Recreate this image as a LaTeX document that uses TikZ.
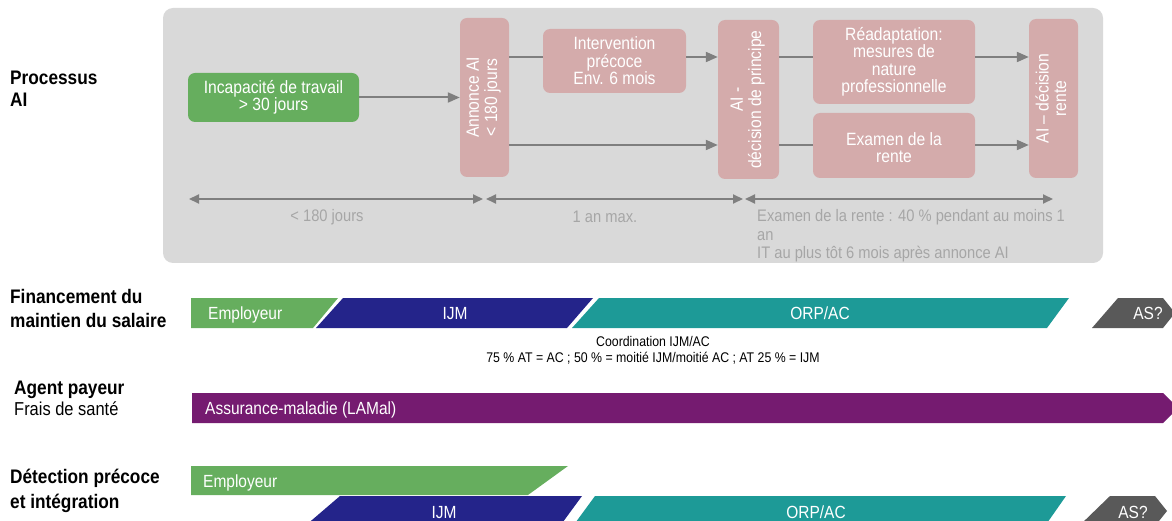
\documentclass[tikz,border=0pt]{standalone}
\usepackage{fontspec}
\setmainfont{Liberation Sans}[FakeStretch=0.88]
\usepackage{xcolor}
\usetikzlibrary{arrows.meta}
\definecolor{fond}{HTML}{D9D9D9}
\definecolor{rose}{HTML}{D4ABAB}
\definecolor{vert}{HTML}{66AE5E}
\definecolor{marine}{HTML}{24248A}
\definecolor{sarcelle}{HTML}{1D9A97}
\definecolor{violet}{HTML}{751B70}
\definecolor{grisAS}{HTML}{595959}
\definecolor{ligne}{HTML}{7F7F7F}
\definecolor{cotegris}{HTML}{A6A6A6}
\newcommand{\boxfont}{\fontsize{17.8}{17.5}\selectfont}
\newcommand{\vtxt}[1]{\rotatebox{90}{\begin{tabular}{@{}c@{}}#1\end{tabular}}}

\begin{document}
\begin{tikzpicture}[x=1pt,y=-1pt,>={Triangle[length=12pt,width=10pt]},
    box/.style={fill=rose,text=white,rounded corners=7pt,align=center,inner sep=0pt,font=\boxfont},
    lien/.style={draw=ligne,line width=2pt},
    cote/.style={draw=ligne,line width=2pt,<->,>={Triangle[length=10pt,width=9pt]}},
    cotetxt/.style={text=cotegris,inner sep=0pt,font=\fontsize{16.7}{18.5}\selectfont},
    titre/.style={anchor=west,align=left,inner sep=0pt},
    barre/.style={text=white,inner sep=0pt,font=\fontsize{17.6}{18}\selectfont}]
    \useasboundingbox (0,0) rectangle (1172,521);
    \clip (0,0) rectangle (1172,521);
    % processus AI
    \fill[fond,rounded corners=10pt] (163,8) rectangle (1103,263);
    \node[box,fill=vert,minimum width=171,minimum height=49] (inc) at (273.5,97.5) {Incapacité de travail\\> 30 jours};
    \node[box,minimum width=49,minimum height=159] (ann) at (484.5,97.5) {\vtxt{Annonce AI\\< 180 jours}};
    \node[box,minimum width=143,minimum height=64] (iv) at (614.5,61) {Intervention\\précoce\\Env. 6 mois};
    \node[box,minimum width=61,minimum height=159] (dp) at (748.5,99.5) {\vtxt{AI -\\décision de principe}};
    \node[box,minimum width=162,minimum height=84] (rd) at (894,62) {Réadaptation:\\mesures de\\nature\\professionnelle};
    \node[box,minimum width=162,minimum height=65] (ex) at (894,145.5) {\mbox{}\\Examen de la\\rente};
    \node[box,minimum width=49,minimum height=159] (dr) at (1053.5,98.5) {\vtxt{AI – décision\\rente}};
    \coordinate (haut) at (0,57);
    \coordinate (bas) at (0,145);
    \draw[lien,->] (inc) -- (ann);
    \draw[lien] (ann.east |- haut) -- (iv.west |- haut);
    \draw[lien,->] (ann.east |- bas) -- (dp.west |- bas);
    \draw[lien,->] (iv.east |- haut) -- (dp.west |- haut);
    \foreach \a/\b in {rd/haut,ex/bas} {\draw[lien] (dp.east |- \b) -- (\a.west |- \b);}
    \foreach \a/\b in {rd/haut,ex/bas} {\draw[lien,->] (\a.east |- \b) -- (dr.west |- \b);}
    % cotes
    \coordinate (c0) at (189,199);
    \coordinate (c1) at (483,199);
    \coordinate (c2) at (486,199);
    \coordinate (c3) at (743,199);
    \coordinate (c4) at (745,199);
    \coordinate (c5) at (1053,199);
    \draw[cote] (c0) -- (c1);
    \draw[cote] (c2) -- (c3);
    \draw[cote] (c4) -- (c5);
    \node[cotetxt] (l1) at (327,217) {< 180 jours};
    \node[cotetxt] (l2) at (605,217) {1 an max.};
    \node[cotetxt,anchor=west,align=left] (l3) at (757,236) {Examen de la rente : 40 \% pendant au moins 1\\an\\IT au plus tôt 6 mois après annonce AI};
    % titres
    \node[titre,font=\fontsize{19.6}{21.5}\selectfont\bfseries] (proc) at (10,89) {Processus\\AI};
    \node[titre,font=\fontsize{19.6}{24}\selectfont\bfseries] (fin) at (10,308) {Financement du\\maintien du salaire};
    \node[titre,font=\fontsize{19.6}{21}\selectfont\bfseries] (agent) at (14,398) {Agent payeur\\{\fontsize{18.7}{21}\selectfont\mdseries Frais de santé}};
    \node[titre,font=\fontsize{19.6}{25}\selectfont\bfseries] (det) at (10,491) {Détection précoce\\et intégration};
    % barres
    \fill[vert] (191,298) -- (338,298) -- (313,328) -- (191,328) -- cycle;
    \fill[marine] (343,298) -- (593,298) -- (567,328) -- (316,328) -- cycle;
    \fill[sarcelle] (599,298) -- (1069,298) -- (1047,328) -- (572,328) -- cycle;
    \fill[grisAS] (1118,298) -- (1163,298) -- (1175,313) -- (1163,328) -- (1092,328) -- cycle;
    \fill[violet] (192,393) -- (1163,393) -- (1178,408) -- (1163,423) -- (192,423) -- cycle;
    \fill[vert] (191,466) -- (568,466) -- (528,495) -- (191,495) -- cycle;
    \fill[marine] (340,496) -- (582,496) -- (560,526) -- (305,526) -- cycle;
    \fill[sarcelle] (595,496) -- (1066,496) -- (1045,526) -- (573,526) -- cycle;
    \fill[grisAS] (1110,496) -- (1155,496) -- (1167,511) -- (1155,526) -- (1079,526) -- cycle;
    \node[barre,anchor=base west] (emp1) at (208,319) {Employeur};
    \node[barre,anchor=base] (ijm1) at (455,319) {IJM};
    \node[barre,anchor=base] (orp1) at (820,319) {ORP/AC};
    \node[barre,anchor=base] (as1) at (1148,319) {AS?};
    \node[align=center,inner sep=0pt,font=\fontsize{14}{16}\selectfont] (coord) at (653,350) {Coordination IJM/AC\\75 \% AT = AC ; 50 \% = moitié IJM/moitié AC ; AT 25 \% = IJM};
    \node[barre,anchor=base west] (lamal) at (205,414) {Assurance-maladie (LAMal)};
    \node[barre,anchor=base west] (emp2) at (203,487) {Employeur};
    \node[barre,anchor=base] (ijm2) at (444,518) {IJM};
    \node[barre,anchor=base] (orp2) at (816,518) {ORP/AC};
    \node[barre,anchor=base] (as2) at (1133,518) {AS?};
\end{tikzpicture}
\end{document}
